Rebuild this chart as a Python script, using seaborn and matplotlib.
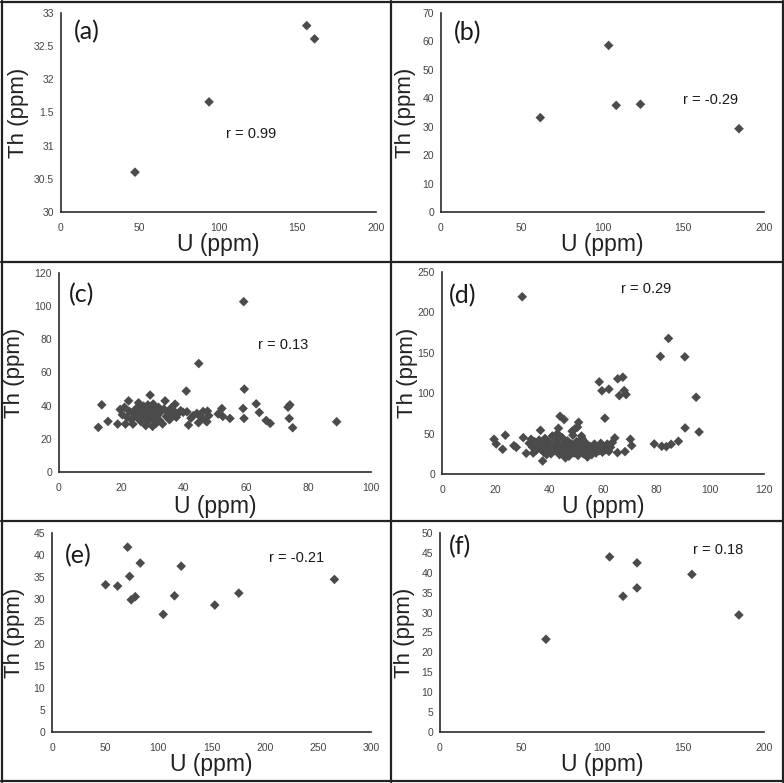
import matplotlib
matplotlib.use("Agg")
import matplotlib.pyplot as plt
import seaborn as sns
import numpy as np
from matplotlib.lines import Line2D

# ---------------- data ----------------
U_a = [47, 94, 156, 161]
Th_a = [30.60, 31.66, 32.81, 32.61]

U_b = [61.5, 103.8, 108.5, 123.5, 184.5]
Th_b = [33.2, 58.6, 37.5, 37.9, 29.3]

U_c = [12.6, 13.7, 15.7, 18.8, 19.6, 20.3, 21.0, 21.3, 21.8, 22.3, 22.6, 23.2, 23.7, 24.0,
       24.6, 25.0, 25.5, 25.8, 26.2, 26.6, 27.1, 27.4, 27.8, 28.1, 28.5, 28.8, 29.2, 29.4,
       29.7, 30.0, 30.2, 30.5, 30.8, 31.2, 31.5, 31.9, 32.3, 32.7, 33.2, 33.6, 34.0, 34.4,
       34.9, 35.4, 35.9, 36.4, 37.0, 37.2, 37.6, 38.3, 39.0, 39.8, 40.8, 41.0, 41.5, 42.3,
       43.0, 44.2, 44.7, 44.8, 45.5, 46.2, 47.0, 47.4, 47.6, 48.0, 51.0, 52.2, 52.5, 54.8,
       59.0, 59.2, 59.3, 59.4, 63.2, 64.2, 66.4, 67.7, 73.4, 73.8, 74.0, 74.9, 89.0]
Th_c = [26.9, 40.5, 30.5, 28.9, 37.7, 34.5, 39.0, 28.9, 33.0, 42.9, 36.5, 31.5, 28.9, 35.0,
        38.0, 33.0, 41.7, 36.0, 30.5, 38.5, 39.7, 33.5, 28.0, 36.0, 40.5, 31.0, 46.4, 34.5,
        38.0, 27.5, 41.0, 32.0, 36.5, 29.5, 34.0, 39.0, 31.0, 36.5, 29.0, 38.0, 42.9, 33.5,
        36.0, 31.5, 38.5, 34.0, 36.5, 40.9, 33.0, 35.5, 37.0, 36.0, 48.8, 36.3, 28.3, 32.5,
        34.0, 35.3, 29.7, 65.4, 33.0, 36.5, 31.0, 30.3, 36.7, 34.0, 35.0, 38.3, 33.5, 32.3,
        38.3, 102.7, 32.3, 50.0, 41.1, 35.9, 31.1, 29.3, 39.1, 32.3, 40.5, 26.7, 30.3]

U_d = [19.4, 20.2, 22.6, 23.6, 26.8, 27.7, 29.9, 30.3, 31.4, 36.7, 37.5, 43.4, 44.0, 45.5,
       49.5, 50.9, 58.6, 59.6, 60.7, 62.2, 64.4, 65.4, 65.5, 66.1, 67.4, 67.9, 68.2, 68.6,
       70.2, 70.7, 79.1, 81.4, 81.9, 83.6, 84.4, 85.4, 88.1, 90.5, 90.6, 94.7, 95.8,
       32.5, 33.2, 33.8, 34.5, 35.0, 35.6, 36.2, 36.8, 37.3, 37.9, 38.4, 38.9, 39.5, 40.0,
       40.6, 41.1, 41.6, 42.1, 42.7, 43.2, 43.8, 44.3, 44.8, 45.3, 45.8, 46.3, 46.8, 47.3,
       47.8, 48.3, 48.8, 49.2, 49.7, 50.2, 50.7, 51.2, 51.7, 52.2, 52.7, 53.2, 53.7, 54.2,
       54.7, 55.2, 55.8, 56.3, 56.8, 57.4, 58.0, 58.6, 59.2, 59.8, 60.4, 61.0, 61.6, 62.2,
       62.8, 63.5, 34.0, 39.0, 43.0, 46.0, 48.5, 50.5, 52.0]
Th_d = [43.0, 37.2, 30.6, 48.0, 35.1, 33.0, 219.4, 45.0, 25.6, 54.1, 16.1, 56.6, 71.5, 67.4,
        55.8, 64.0, 114.0, 103.0, 69.0, 105.0, 44.6, 26.4, 117.8, 97.0, 119.8, 103.3, 27.7, 98.3,
        43.0, 35.1, 37.2, 145.5, 34.3, 33.9, 167.8, 36.8, 40.5, 145.0, 57.0, 95.0, 52.0,
        38, 43, 33, 40, 29, 36, 42, 31, 38, 27, 44, 34, 30, 39,
        25, 47, 33, 29, 41, 36, 24, 31, 45, 38, 27, 34, 41, 22,
        30, 37, 48, 26, 33, 40, 23, 29, 36, 44, 25, 32, 38, 21,
        28, 34, 24, 30, 37, 26, 33, 29, 38, 27, 34, 30, 37, 28,
        33, 39, 26, 24, 50, 20, 53, 58, 47]

U_e = [50.4, 61.7, 71.1, 73.0, 74.5, 78.3, 83.0, 104.6, 115.2, 121.5, 153.1, 175.7, 265.6]
Th_e = [33.3, 33.0, 41.8, 35.2, 29.9, 30.6, 38.2, 26.6, 30.8, 37.5, 28.7, 31.4, 34.5]

U_f = [65.4, 104.7, 113.0, 121.6, 121.6, 155.5, 184.5]
Th_f = [23.3, 44.0, 34.1, 42.5, 36.2, 39.6, 29.4]

panel_tags = ["(a)", "(b)", "(c)", "(d)", "(e)", "(f)"]
r_texts = ["r = 0.99", "r = -0.29", "r = 0.13", "r = 0.29", "r = -0.21", "r = 0.18"]
x_label = "U (ppm)"
y_label = "Th (ppm)"
a_ytick_labels = ["30", "30.5", "31", "1.5", "32", "32.5", "33"]

# ---------------- style ----------------
sns.set_style("white")
plt.rcParams["font.family"] = ["Liberation Sans", "DejaVu Sans"]

W, H = 784, 783
fig = plt.figure(figsize=(W / 100, H / 100), dpi=100)
fig.patch.set_facecolor("white")

# pixel boxes: left, right, top, bottom
boxes = [
    (61, 376, 13, 212),
    (441, 764, 13, 212),
    (59, 371, 273, 472),
    (442, 764, 272, 474),
    (52, 371, 533, 732),
    (440, 764, 533, 732),
]
datasets = [(U_a, Th_a), (U_b, Th_b), (U_c, Th_c), (U_d, Th_d), (U_e, Th_e), (U_f, Th_f)]
xlims = [(0, 200), (0, 200), (0, 100), (0, 120), (0, 300), (0, 200)]
ylims = [(30, 33), (0, 70), (0, 120), (0, 250), (0, 45), (0, 50)]
xsteps = [50, 50, 20, 20, 50, 50]
ysteps = [0.5, 10, 20, 50, 5, 5]
r_pos = [(104.6, 31.18), (149.8, 39.4), (63.7, 76.8), (66.8, 229), (204.4, 39.4), (156.2, 45.7)]
tag_off = [(13, 19), (13, 20), (10, 22), (7, 24), (13, 23), (9, 14)]
ylabel_off = [43, 36, 44, 35, 37, 35]
xlabel_off = [33, 33, 35, 33, 33, 33]

for i, ((l, r, t, b), (ux, ty)) in enumerate(zip(boxes, datasets)):
    ax = fig.add_axes([l / W, 1 - b / H, (r - l) / W, (b - t) / H])
    ax.set_facecolor("white")
    sns.scatterplot(x=ux, y=ty, marker="D", s=24, color="#4b4b4b",
                    edgecolor="none", linewidth=0, ax=ax, zorder=3)
    ax.set_xlim(*xlims[i])
    ax.set_ylim(*ylims[i])
    ax.set_xticks(np.arange(xlims[i][0], xlims[i][1] + 1e-9, xsteps[i]))
    yt = np.arange(ylims[i][0], ylims[i][1] + 1e-9, ysteps[i])
    ax.set_yticks(yt)
    if i == 0:
        ax.set_yticklabels(a_ytick_labels)
    else:
        ax.set_yticklabels([f"{v:g}" for v in yt])
    ax.set_xticklabels([f"{v:g}" for v in ax.get_xticks()])
    for s in ["top", "right"]:
        ax.spines[s].set_visible(False)
    for s in ["left", "bottom"]:
        ax.spines[s].set_color("#2b2b2b")
        ax.spines[s].set_linewidth(1.2)
    ax.tick_params(axis="both", direction="out", length=3, width=1.0, color="#2b2b2b",
                   labelsize=7.5, labelcolor="#444444", pad=2.0)
    ax.tick_params(axis="x", pad=5)
    ax.set_xlabel(x_label, fontsize=16.5, color="#222222")
    ax.set_ylabel(y_label, fontsize=16, color="#222222")
    wpx, hpx = r - l, b - t
    ax.xaxis.set_label_coords(0.5, -xlabel_off[i] / hpx)
    ax.xaxis.label.set_va("center")
    ax.yaxis.set_label_coords(-ylabel_off[i] / wpx, 0.5)
    ax.yaxis.label.set_va("center")
    ax.text(tag_off[i][0] / wpx, 1 - tag_off[i][1] / hpx, panel_tags[i],
            transform=ax.transAxes, fontsize=18, ha="left", va="center",
            family=["Lato", "DejaVu Sans"], color="#1a1a1a")
    ax.text(r_pos[i][0], r_pos[i][1], r_texts[i], fontsize=10.5, ha="left",
            va="center", color="#1a1a1a")

# panel borders
lw = 1.6
col = "#222222"
def hline(y, x0=1, x1=W - 1):
    fig.add_artist(Line2D([x0 / W, x1 / W], [1 - y / H, 1 - y / H], color=col, lw=lw))
def vline(x, y0=1, y1=H - 1):
    fig.add_artist(Line2D([x / W, x / W], [1 - y0 / H, 1 - y1 / H], color=col, lw=lw))

hline(1.5); hline(H - 2); hline(261.5); hline(520.5)
vline(1.5); vline(W - 1.5); vline(390.5)

fig.savefig("out.png", dpi=100, facecolor="white")
